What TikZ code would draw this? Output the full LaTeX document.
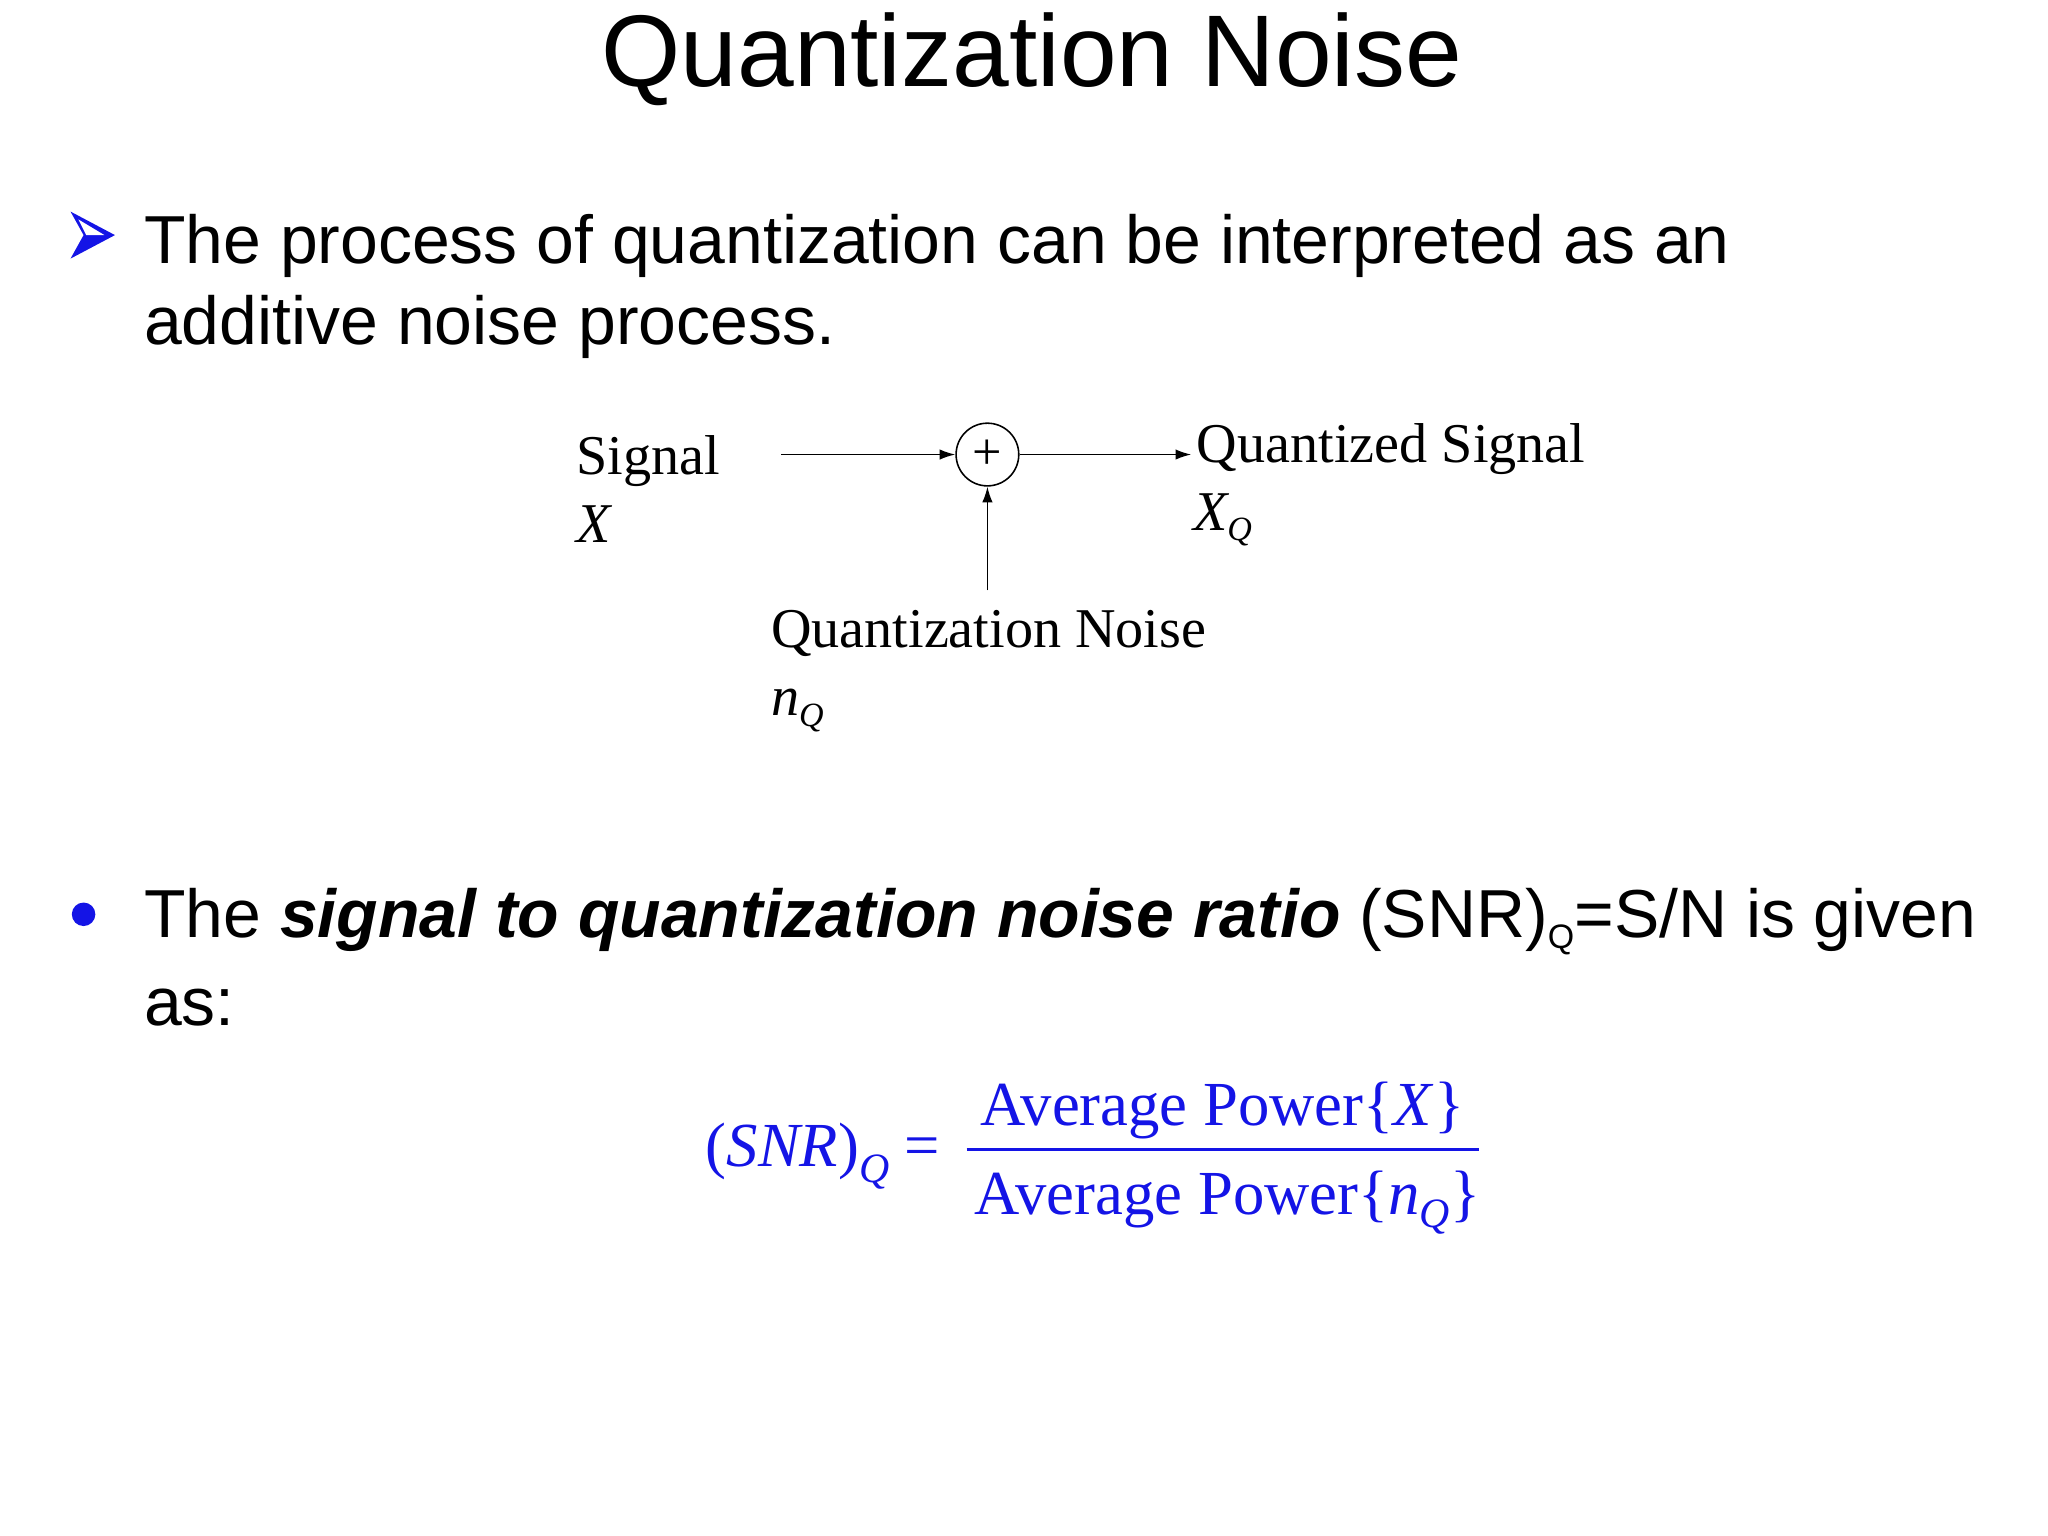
\documentclass[tikz,border=0pt]{standalone}
\usepackage{fontspec}
\setmainfont{Liberation Serif}
\newfontfamily\sans{Liberation Sans}
\usetikzlibrary{arrows.meta}
\definecolor{eqblue}{RGB}{20,20,230}
\begin{document}
\begin{tikzpicture}[x=0.5pt,y=-0.5pt,
  txt/.style={inner sep=0pt,anchor=base west},
  body/.style={txt,font=\sans\fontsize{26}{30}\selectfont},
  dia/.style={txt,font=\fontsize{21.5}{25}\selectfont},
  eq/.style={txt,font=\fontsize{24}{28}\selectfont,text=eqblue},
  arr/.style={-{Latex[length=6pt,width=4pt]},line width=0.6pt}]
\useasboundingbox[fill=white] (0,0) rectangle (1568,1176);
\node[anchor=base,inner sep=0pt,font=\sans\fontsize{39}{44}\selectfont] (title) at (790,66) {Quantization Noise};
% arrow bullet
\fill[eqblue] (54,162) -- (88,180) -- (54,198) -- (64,180) -- cycle;
\fill[white] (60,168) -- (80,180) -- (66,180) -- cycle;
\node[body] (l1) at (110,202) {The process of quantization can be interpreted as an};
\node[body] (l2) at (110,264) {additive noise process.};
% diagram
\node[draw,circle,minimum size=48pt*0.5,inner sep=0pt,line width=0.6pt,font=\fontsize{20}{20}\selectfont] (sum) at (756,348) {+};
\coordinate (sin) at (598,348);
\coordinate (sout) at (912,348);
\coordinate (nin) at (756,452);
\draw[arr] (sin) -- (sum);
\draw[arr] (sum) -- (sout);
\draw[arr] (nin) -- (sum);
\node[dia] (sig) at (441,363) {Signal};
\node[dia] (x) at (441,415) {\itshape X};
\node[dia] (qs) at (916,354) {Quantized Signal};
\node[dia] (xq) at (913,406) {\itshape X\raisebox{-4pt}{\fontsize{13}{13}\selectfont Q}};
\node[dia] (qn) at (590,496) {Quantization Noise};
\node[dia] (nq) at (590,548) {\itshape n\raisebox{-4pt}{\fontsize{13}{13}\selectfont Q}};
% second bullet
\fill[eqblue] (64,700) circle (9);
\node[body] (m1) at (110,718) {The \textbf{\textit{signal to quantization noise ratio}} (SNR)\raisebox{-4pt}{\fontsize{13}{13}\selectfont Q}=S/N is given};
\node[body] (m2) at (110,785) {as:};
% equation
\node[eq] (lhs) at (540,893) {(\textit{SNR})\raisebox{-6pt}{\fontsize{16}{16}\selectfont\itshape Q} =};
\node[eq] (num) at (750,862) {Average Power\{\textit{X}\}};
\node[eq] (den) at (746,930) {Average Power\{\textit{n}\raisebox{-5pt}{\fontsize{16}{16}\selectfont\itshape Q}\}};
\draw[eqblue,line width=1pt] (740,880) -- (1132,880);
\end{tikzpicture}
\end{document}
